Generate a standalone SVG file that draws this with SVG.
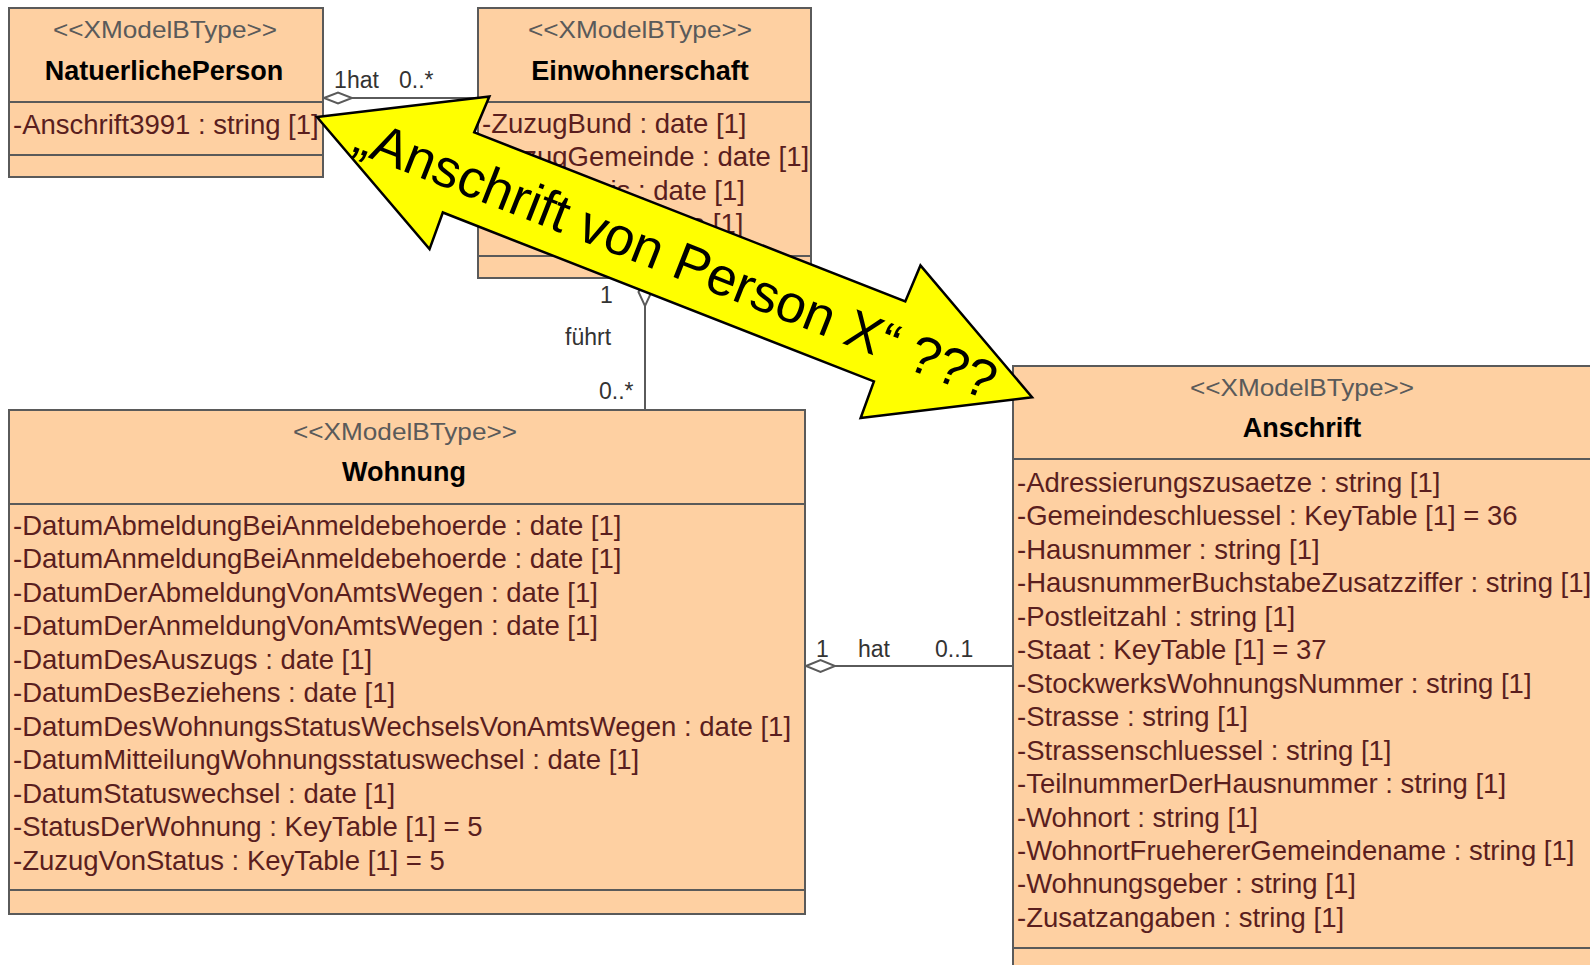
<svg xmlns="http://www.w3.org/2000/svg" width="1590" height="965" viewBox="0 0 1590 965">
<style>
.box{fill:#FED0A2;stroke:#5a5a5a;stroke-width:2}
.div{stroke:#5a5a5a;stroke-width:2}
.st{font-family:"Liberation Sans",Arial,sans-serif;font-size:24px;fill:#5a5a5a;text-anchor:middle}
.ti{font-family:"Liberation Sans",Arial,sans-serif;font-size:27px;font-weight:bold;fill:#000;text-anchor:middle}
.at{font-family:"Liberation Sans",Arial,sans-serif;font-size:27.5px;fill:#5a1e1e}
.ln{stroke:#5a5a5a;stroke-width:2;fill:none}
.dia{fill:#fff;stroke:#5a5a5a;stroke-width:2}
.lb{font-family:"Liberation Sans",Arial,sans-serif;font-size:23px;fill:#333}
.arr{fill:#FFFF00;stroke:#000;stroke-width:2.5;stroke-linejoin:miter}
.atxt{font-family:"Liberation Sans",Arial,sans-serif;font-size:53.5px;fill:#000}
</style>
<rect width="1590" height="965" fill="#fff"/>

<g id="connectors">
  <line class="ln" x1="323" y1="98" x2="478" y2="98"/>
  <polygon class="dia" points="324,98 338,92.5 352,98 338,103.5"/>
  <text class="lb" x="334" y="88">1</text>
  <text class="lb" x="347" y="88">hat</text>
  <text class="lb" x="399" y="88">0..*</text>

  <line class="ln" x1="645" y1="278" x2="645" y2="410"/>
  <polygon class="dia" points="645,278 651.5,292 645,306 638.5,292"/>
  <text class="lb" x="600" y="303">1</text>
  <text class="lb" x="565" y="345">führt</text>
  <text class="lb" x="599" y="399">0..*</text>

  <line class="ln" x1="805" y1="666" x2="1013" y2="666"/>
  <polygon class="dia" points="806,666 820.5,660 835,666 820.5,672"/>
  <text class="lb" x="816" y="657">1</text>
  <text class="lb" x="858" y="657">hat</text>
  <text class="lb" x="935" y="657">0..1</text>
</g>

<g id="NatuerlichePerson">
  <rect class="box" x="9" y="8" width="314" height="169"/>
  <line class="div" x1="9" y1="102" x2="323" y2="102"/>
  <line class="div" x1="9" y1="155" x2="323" y2="155"/>
  <text class="st" x="165" y="38" textLength="224" lengthAdjust="spacingAndGlyphs">&lt;&lt;XModelBType&gt;&gt;</text>
  <text class="ti" x="164" y="80">NatuerlichePerson</text>
  <text class="at" x="13" y="134">-Anschrift3991 : string [1]</text>
</g>

<g id="Einwohnerschaft">
  <rect class="box" x="478" y="8" width="333" height="270"/>
  <line class="div" x1="478" y1="102" x2="811" y2="102"/>
  <line class="div" x1="478" y1="256" x2="811" y2="256"/>
  <text class="st" x="640" y="38" textLength="224" lengthAdjust="spacingAndGlyphs">&lt;&lt;XModelBType&gt;&gt;</text>
  <text class="ti" x="640" y="80">Einwohnerschaft</text>
  <text class="at" x="482" y="133">-ZuzugBund : date [1]<tspan x="482" dy="33.45">-ZuzugGemeinde : date [1]</tspan><tspan x="482" dy="33.45">-ZuzugKreis : date [1]</tspan><tspan x="482" dy="33.45">-ZuzugLand : date [1]</tspan></text>
</g>

<g id="Wohnung">
  <rect class="box" x="9" y="410" width="796" height="504"/>
  <line class="div" x1="9" y1="504" x2="805" y2="504"/>
  <line class="div" x1="9" y1="890" x2="805" y2="890"/>
  <text class="st" x="405" y="440" textLength="224" lengthAdjust="spacingAndGlyphs">&lt;&lt;XModelBType&gt;&gt;</text>
  <text class="ti" x="404" y="481">Wohnung</text>
  <text class="at" x="13" y="535">-DatumAbmeldungBeiAnmeldebehoerde : date [1]<tspan x="13" dy="33.45">-DatumAnmeldungBeiAnmeldebehoerde : date [1]</tspan><tspan x="13" dy="33.45">-DatumDerAbmeldungVonAmtsWegen : date [1]</tspan><tspan x="13" dy="33.45">-DatumDerAnmeldungVonAmtsWegen : date [1]</tspan><tspan x="13" dy="33.45">-DatumDesAuszugs : date [1]</tspan><tspan x="13" dy="33.45">-DatumDesBeziehens : date [1]</tspan><tspan x="13" dy="33.45">-DatumDesWohnungsStatusWechselsVonAmtsWegen : date [1]</tspan><tspan x="13" dy="33.45">-DatumMitteilungWohnungsstatuswechsel : date [1]</tspan><tspan x="13" dy="33.45">-DatumStatuswechsel : date [1]</tspan><tspan x="13" dy="33.45">-StatusDerWohnung : KeyTable [1] = 5</tspan><tspan x="13" dy="33.45">-ZuzugVonStatus : KeyTable [1] = 5</tspan></text>
</g>

<g id="Anschrift">
  <rect class="box" x="1013" y="366" width="580" height="610"/>
  <line class="div" x1="1013" y1="459" x2="1593" y2="459"/>
  <line class="div" x1="1013" y1="948" x2="1593" y2="948"/>
  <text class="st" x="1302" y="396" textLength="224" lengthAdjust="spacingAndGlyphs">&lt;&lt;XModelBType&gt;&gt;</text>
  <text class="ti" x="1302" y="437">Anschrift</text>
  <text class="at" x="1017" y="492">-Adressierungszusaetze : string [1]<tspan x="1017" dy="33.45">-Gemeindeschluessel : KeyTable [1] = 36</tspan><tspan x="1017" dy="33.45">-Hausnummer : string [1]</tspan><tspan x="1017" dy="33.45">-HausnummerBuchstabeZusatzziffer : string [1]</tspan><tspan x="1017" dy="33.45">-Postleitzahl : string [1]</tspan><tspan x="1017" dy="33.45">-Staat : KeyTable [1] = 37</tspan><tspan x="1017" dy="33.45">-StockwerksWohnungsNummer : string [1]</tspan><tspan x="1017" dy="33.45">-Strasse : string [1]</tspan><tspan x="1017" dy="33.45">-Strassenschluessel : string [1]</tspan><tspan x="1017" dy="33.45">-TeilnummerDerHausnummer : string [1]</tspan><tspan x="1017" dy="33.45">-Wohnort : string [1]</tspan><tspan x="1017" dy="33.45">-WohnortFruehererGemeindename : string [1]</tspan><tspan x="1017" dy="33.45">-Wohnungsgeber : string [1]</tspan><tspan x="1017" dy="33.45">-Zusatzangaben : string [1]</tspan></text>
</g>

<g id="annotation" transform="translate(317,117) rotate(21.4)">
  <polygon class="arr" points="0,0 153,-82 152,-43 615,-43 616,-82 768,0 616,82 615,43 152,43 153,82"/>
  <text class="atxt" x="44" y="19">„Anschrift von Person X“ ???</text>
</g>
</svg>
